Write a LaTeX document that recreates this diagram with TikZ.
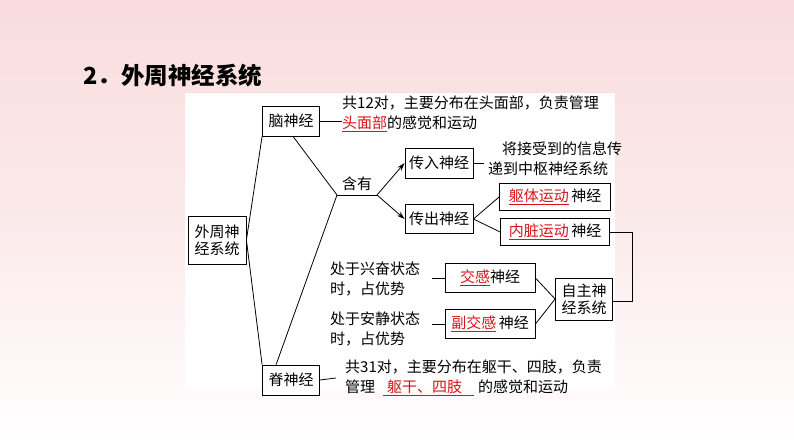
\documentclass[tikz,border=0pt]{standalone}
\usepackage{fontspec}
\setmainfont{Liberation Serif}
\newfontfamily\cjk{Noto Sans CJK SC}
\usetikzlibrary{arrows.meta}
\definecolor{bgpink}{HTML}{F9DCDD}
\definecolor{ans}{HTML}{D7141A}
\begin{document}
\begin{tikzpicture}[x=1pt,y=-1pt,
  bx/.style={draw,line width=0.8pt,fill=white,inner sep=2pt,font=\cjk\fontsize{15}{17}\selectfont,align=center},
  tx/.style={font=\cjk\fontsize{15}{20}\selectfont,align=left,inner sep=0pt,anchor=west},
  ln/.style={line width=0.8pt},
  ar/.style={line width=0.8pt,-{Stealth[length=8pt,width=5pt]}}]
\useasboundingbox (0,0) rectangle (794,446);
\shade[top color=bgpink,bottom color=white,middle color=bgpink!60] (0,0) rectangle (794,446);
\fill[white] (185,93) rectangle (615,390);
\node[font=\cjk\bfseries\fontsize{23.5}{26}\selectfont,anchor=west] (title) at (80,76) {2．外周神经系统};
\node[bx,minimum width=58pt,minimum height=48pt,inner sep=1pt] (wz) at (217,240) {外周神\\经系统};
\node[bx,minimum width=57pt,minimum height=30pt] (nao) at (291,121) {脑神经};
\node[bx,minimum width=57pt,minimum height=30pt] (ji) at (291,380) {脊神经};
\coordinate (j) at (337,195);
\coordinate (j2) at (377,195);
\node[font=\cjk\fontsize{15}{17}\selectfont] (hy) at (357,184) {含有};
\node[bx,minimum width=68pt,minimum height=30pt] (cr) at (439,163) {传入神经};
\node[bx,minimum width=68pt,minimum height=29pt] (cc) at (439,219) {传出神经};
\node[bx,minimum width=111pt,minimum height=27pt] (qt) at (555,197) {\textcolor{ans}{\underline{躯体运动}}\,神经};
\node[bx,minimum width=109pt,minimum height=27pt] (nz) at (555,232) {\textcolor{ans}{\underline{内脏运动}}\,神经};
\node[bx,minimum width=57pt,minimum height=42pt,inner sep=1pt] (zz) at (584,299) {自主神\\经系统};
\node[bx,minimum width=90pt,minimum height=29pt] (jg) at (490,278) {\textcolor{ans}{\underline{交感}}神经};
\node[bx,minimum width=90pt,minimum height=29pt] (fjg) at (490,324) {\textcolor{ans}{\underline{副交感}}\,神经};
\node[tx] (t1) at (342,114) {共12对，主要分布在头面部，负责管理\\\textcolor{ans}{\underline{头面部}}的感觉和运动};
\node[tx] (t2) at (488,159) {\hspace*{14pt}将接受到的信息传\\递到中枢神经系统};
\node[tx] (t3) at (330,279) {处于兴奋状态\\时，占优势};
\node[tx] (t4) at (330,329) {处于安静状态\\时，占优势};
\node[tx] (t5) at (345,378) {共31对，主要分布在躯干、四肢，负责\\管理\hspace{8pt}\textcolor{ans}{\underline{\hspace{4pt}躯干、四肢\hspace{12pt}}}\hspace{4pt}的感觉和运动};
\draw[ln] (wz.east) -- (nao.south west);
\draw[ln] (wz.east) -- (ji.north west);
\draw[ln] ([xshift=2pt]nao.south) -- (j) -- ([xshift=14pt]ji.north west);
\draw[ln] (j) -- (j2);
\draw[ar] (j2) -- (cr.west);
\draw[ar] (j2) -- (cc.west);
\draw[ln] (cc.east) -- (qt.west);
\draw[ln] (cc.east) -- (nz.west);
\draw[ln] (nao.east) -- (t1.west |- nao.east);
\draw[ln] (cr.east) -- ([xshift=-4pt]t2.west |- cr.east);
\draw[ln] (nz.east) -- (632,232) -- (632,301) -- (zz.east |- 0,301);
\draw[ln] (jg.east) -- (zz.west);
\draw[ln] (fjg.east) -- (zz.west);
\draw[ln] (432,278) -- (jg.west);
\draw[ln] (432,324) -- (fjg.west);
\draw[ln] (ji.east) -- (336,378);
\end{tikzpicture}
\end{document}
